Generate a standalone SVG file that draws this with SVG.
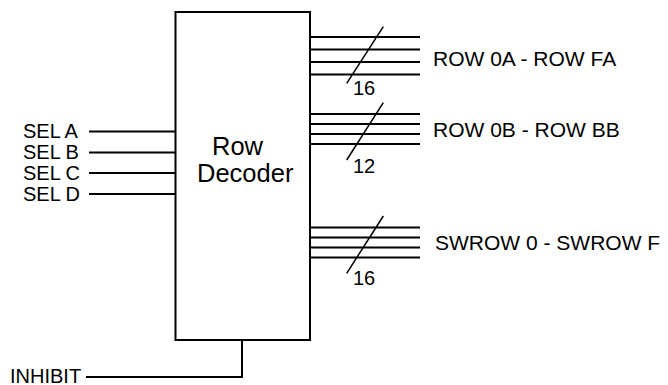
<svg xmlns="http://www.w3.org/2000/svg" width="668" height="385" viewBox="0 0 668 385">
<style>
.w{stroke:#000;stroke-width:2;fill:none}
.t{font-family:"Liberation Sans",Arial,sans-serif;font-size:20px;fill:#000}
.r{font-family:"Liberation Sans",Arial,sans-serif;font-size:21px;fill:#000}
.b{font-family:"Liberation Sans",Arial,sans-serif;font-size:25.5px;fill:#000}
.s{stroke:#000;stroke-width:1.5;fill:none}
</style>
<rect width="668" height="385" fill="#fff"/>
<g id="connectors">
<path class="w" d="M89 131.5H175.5M89 152.5H175.5M89 173H175.5M89 194H175.5"/>
<path class="w" d="M86 377H242V340"/>
<path class="w" d="M310 37H420M310 49.5H420M310 62H420M310 74.5H420"/>
<path class="s" d="M383.3 26.7L346.7 83.3"/>
<path class="w" d="M310 114H420M310 124H420M310 134H420M310 144H420"/>
<path class="s" d="M383.3 102.7L346.7 160"/>
<path class="w" d="M310 227.5H420M310 237.5H420M310 247.5H420M310 257.5H420"/>
<path class="s" d="M383.3 216L346.7 273.3"/>
</g>
<g id="decoder">
<rect class="w" x="175.5" y="12" width="134.5" height="328"/>
<text class="b" x="212" y="155">Row</text>
<text class="b" x="197" y="182">Decoder</text>
</g>
<g id="inputs">
<text class="t" x="23" y="138">SEL A</text>
<text class="t" x="23" y="159">SEL B</text>
<text class="t" x="23" y="179.5">SEL C</text>
<text class="t" x="23" y="200.5">SEL D</text>
<text class="t" x="10" y="382.5">INHIBIT</text>
</g>
<g id="bus1">
<text class="t" x="353" y="95">16</text>
<text class="r" x="433" y="66">ROW 0A - ROW FA</text>
</g>
<g id="bus2">
<text class="t" x="353" y="173">12</text>
<text class="r" x="433" y="137">ROW 0B - ROW BB</text>
</g>
<g id="bus3">
<text class="t" x="353" y="285">16</text>
<text class="r" x="435" y="250">SWROW 0 - SWROW F</text>
</g>
</svg>
